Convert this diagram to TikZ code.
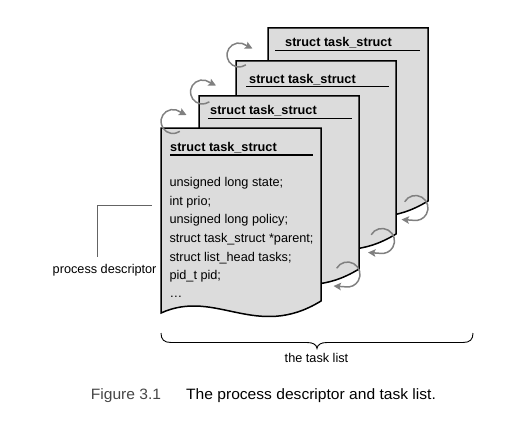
\documentclass[tikz,border=0pt]{standalone}
\usepackage{fontspec}
\setmainfont{Liberation Sans}
\newfontfamily\capfont[FakeStretch=1.04]{Liberation Sans}
\usetikzlibrary{arrows.meta,calc}
\definecolor{pagefill}{RGB}{220,220,220}
\definecolor{arrowgray}{RGB}{128,128,128}
\definecolor{leadgray}{RGB}{100,100,100}
\definecolor{figgray}{RGB}{70,70,70}
\begin{document}
\begin{tikzpicture}[x=1pt,y=-1pt,
  pagebox/.style={draw=black, fill=pagefill, line width=1.5pt, line join=miter},
  headrule/.style={draw=black, line width=1.4pt},
  headtext/.style={font=\fontsize{12.7}{15}\selectfont\bfseries, anchor=base west, inner sep=0pt},
  bodytext/.style={font=\fontsize{12.7}{15}\selectfont, anchor=base west, inner sep=0pt},
  labeltext/.style={font=\fontsize{12.7}{15}\selectfont, inner sep=0pt},
  captext/.style={font=\capfont\fontsize{15}{17}\selectfont, anchor=base west, inner sep=0pt},
  linkarrow/.style={draw=arrowgray, line width=1.5pt, -{Stealth[length=7.5pt,width=7.5pt,inset=1.5pt]}},
  leader/.style={draw=leadgray, line width=1pt},
  bracestyle/.style={draw=black, line width=0.9pt},
  pics/taskpage/.style={code={\path[pagebox] (0,0) -- (160,0) -- (160,173) .. controls (95,213) and (55,160) .. (0,185) -- cycle;}}
]
\useasboundingbox (0,0) rectangle (516,425);
% pages, back to front
\pic at (268,28) {taskpage};
\node[headtext] (h4) at (285,46.7) {struct task\_struct};
\draw[headrule] (275,50.7) -- (420,50.7);
\pic at (236,61) {taskpage};
\node[headtext] (h3) at (249,83.3) {struct task\_struct};
\draw[headrule] (246,86.7) -- (389,86.7);
\pic at (199,96) {taskpage};
\node[headtext] (h2) at (210,114.3) {struct task\_struct};
\draw[headrule] (208,118.3) -- (352,118.3);
\pic at (161,128) {taskpage};
\node[headtext] (h1) at (170,151) {struct task\_struct};
\draw[headrule] (170,155) -- (313,155);
% fields
\node[bodytext] (f1) at (169.3,186.7) {unsigned long state;};
\node[bodytext] (f2) at (169.3,205.3) {int prio;};
\node[bodytext] (f3) at (169.3,223.9) {unsigned long policy;};
\node[bodytext] (f4) at (169.3,242.5) {struct task\_struct *parent;};
\node[bodytext] (f5) at (169.3,261.1) {struct list\_head tasks;};
\node[bodytext] (f6) at (169.3,279.7) {pid\_t pid;};
\node[bodytext] (f7) at (169.3,297.8) {…};
% link arrows (top)
\coordinate (t1) at (173,121.5);
\coordinate (t2) at (202.5,92);
\coordinate (t3) at (239,55);
\foreach \c in {t1,t2,t3}{
  \draw[linkarrow] ($(\c)+(55:12)$) arc[start angle=55, end angle=285, radius=12] -- ($(\c)+(13.5,-6.5)$);
}
% link arrows (bottom)
\coordinate (b1) at (347.5,274.5);
\coordinate (b2) at (382,241);
\coordinate (b3) at (415.5,208);
\foreach \c in {b1,b2,b3}{
  \draw[linkarrow] ($(\c)+(210:12.5)$) arc[start angle=210, end angle=460, radius=12.5] -- ($(\c)+(-14,11.5)$);
}
% process descriptor label
\node[labeltext, anchor=base east] (pd) at (156.7,273.3) {process descriptor};
\coordinate (pdlow) at (97.3,256.7);
\coordinate (pdend) at (151.7,205.7);
\draw[leader] (pdlow) |- (pdend);
% brace
\coordinate (brl) at (161,333);
\coordinate (brr) at (473,333);
\coordinate (brm) at (317,348.5);
\draw[bracestyle] (brl) .. controls (161,339.5) and (164,342.5) .. (171,342.5) -- (307,342.5)
   .. controls (313,342.5) and (316.5,344.5) .. (brm)
   .. controls (317.5,344.5) and (321,342.5) .. (327,342.5) -- (463,342.5)
   .. controls (470,342.5) and (473,339.5) .. (brr);
\node[labeltext, anchor=base] (tl) at (316.5,362.7) {the task list};
% caption
\node[captext, text=figgray] (cap1) at (90.7,399.3) {Figure 3.1};
\node[captext] (cap2) at (186,399.3) {The process descriptor and task list.};
\end{tikzpicture}
\end{document}
